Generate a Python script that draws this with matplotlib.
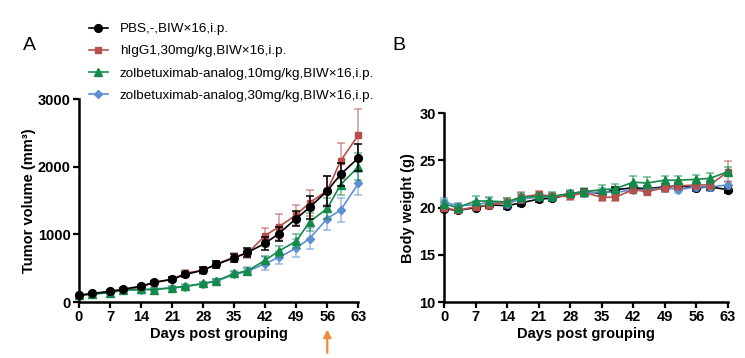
import numpy as np
import matplotlib
matplotlib.use("Agg")
import matplotlib.pyplot as plt

plt.rcParams['font.family'] = ['Liberation Sans', 'DejaVu Sans']

# ---------------------------------------------------------------------------
# data
# ---------------------------------------------------------------------------
days = [0, 3, 7, 10, 14, 17, 21, 24, 28, 31, 35, 38, 42, 45, 49, 52, 56, 59, 63]

group_labels = [
    "PBS,-,BIW×16,i.p.",
    "hIgG1,30mg/kg,BIW×16,i.p.",
    "zolbetuximab-analog,10mg/kg,BIW×16,i.p.",
    "zolbetuximab-analog,30mg/kg,BIW×16,i.p.",
]

# tumor volume (mm3), mean and SEM
tv_pbs = [103, 128, 160, 192, 236, 295, 338, 409, 473, 557, 655, 734, 870, 1010, 1236, 1400, 1645, 1890, 2131]
tv_pbs_err = [10, 12, 15, 18, 20, 25, 30, 35, 45, 50, 60, 70, 95, 100, 110, 170, 220, 170, 200]
tv_higg = [100, 122, 152, 180, 225, 290, 335, 430, 470, 565, 665, 722, 985, 1110, 1290, 1470, 1650, 2088, 2470]
tv_higg_err = [10, 12, 15, 20, 25, 30, 35, 40, 50, 50, 60, 70, 105, 190, 150, 190, 220, 265, 385]
tv_z10 = [100, 120, 142, 178, 190, 185, 212, 236, 276, 315, 424, 462, 620, 753, 901, 1186, 1385, 1738, 1999]
tv_z10_err = [10, 10, 12, 15, 15, 18, 20, 25, 25, 30, 40, 45, 60, 80, 100, 130, 150, 160, 200]
tv_z30 = [100, 118, 140, 175, 180, 195, 210, 230, 270, 310, 410, 455, 570, 660, 800, 940, 1236, 1360, 1754]
tv_z30_err = [10, 10, 12, 15, 15, 18, 20, 25, 25, 30, 40, 60, 90, 90, 130, 150, 170, 180, 170]

# body weight (g), mean and SEM
bw_pbs = [19.9, 19.7, 20.0, 20.3, 20.2, 20.5, 20.9, 21.0, 21.4, 21.7, 21.5, 21.9, 22.1, 22.0, 22.2, 22.3, 22.1, 22.2, 21.9]
bw_pbs_err = [0.3, 0.3, 0.3, 0.3, 0.3, 0.3, 0.3, 0.3, 0.3, 0.3, 0.3, 0.3, 0.3, 0.3, 0.3, 0.3, 0.3, 0.3, 0.3]
bw_higg = [20.0, 19.7, 20.1, 20.3, 20.6, 21.1, 21.4, 21.2, 21.2, 21.6, 21.1, 21.1, 21.9, 21.7, 22.1, 22.3, 22.4, 22.4, 23.8]
bw_higg_err = [0.3, 0.3, 0.4, 0.4, 0.4, 0.6, 0.4, 0.4, 0.4, 0.4, 0.4, 0.4, 0.4, 0.4, 0.4, 0.4, 0.4, 0.4, 1.1]
bw_z10 = [20.4, 20.0, 20.7, 20.7, 20.6, 21.1, 21.2, 21.2, 21.5, 21.7, 21.9, 22.0, 22.7, 22.6, 22.9, 22.9, 23.0, 23.1, 23.8]
bw_z10_err = [0.4, 0.4, 0.5, 0.4, 0.4, 0.4, 0.4, 0.5, 0.4, 0.4, 0.5, 0.5, 0.6, 0.6, 0.4, 0.4, 0.5, 0.6, 0.5]
bw_z30 = [20.6, 20.2, 20.3, 20.6, 20.4, 20.9, 21.1, 21.1, 21.5, 21.5, 21.7, 21.6, 21.9, 21.9, 22.1, 21.9, 22.2, 22.2, 22.4]
bw_z30_err = [0.4, 0.3, 0.4, 0.4, 0.4, 0.4, 0.3, 0.3, 0.3, 0.4, 0.4, 0.4, 0.4, 0.4, 0.4, 0.4, 0.4, 0.4, 0.4]

colors = ["#000000", "#b5504c", "#138a48", "#5b8fd2"]
markers = ["o", "s", "^", "D"]
msizes = [5.6, 5.0, 5.2, 3.6]
zorder_A = [5, 3, 4, 2]
zorder_B = [2, 4, 5, 3]

# ---------------------------------------------------------------------------
# figure
# ---------------------------------------------------------------------------
fig = plt.figure(figsize=(7.45, 3.58), dpi=100)
axA = fig.add_axes([0.106, 0.156, 0.375, 0.567])
axB = fig.add_axes([0.596, 0.156, 0.381, 0.528])

tv_means = [tv_pbs, tv_higg, tv_z10, tv_z30]
tv_errs = [tv_pbs_err, tv_higg_err, tv_z10_err, tv_z30_err]
bw_means = [bw_pbs, bw_higg, bw_z10, bw_z30]
bw_errs = [bw_pbs_err, bw_higg_err, bw_z10_err, bw_z30_err]

handles = []
for i in range(4):
    ebc = colors[i] if i == 0 else matplotlib.colors.to_rgba(colors[i], 0.6)
    for ax, m, e, z in [(axA, tv_means[i], tv_errs[i], zorder_A[i]),
                        (axB, bw_means[i], bw_errs[i], zorder_B[i])]:
        eb = ax.errorbar(days, m, yerr=e, color=colors[i], ecolor=ebc,
                         marker=markers[i], markersize=msizes[i], linewidth=1.2,
                         elinewidth=1.1, capsize=3.2, capthick=1.1,
                         zorder=z, clip_on=False)
        for art in eb.lines[1] + eb.lines[2]:
            art.set_clip_on(False)
    handles.append(plt.Line2D([], [], color=colors[i], marker=markers[i],
                              markersize=msizes[i], linewidth=1.2))

for ax in (axA, axB):
    ax.set_xlim(0, 63)
    ax.set_xticks(range(0, 64, 7))
    for s in ("top", "right"):
        ax.spines[s].set_visible(False)
    for s in ("left", "bottom"):
        ax.spines[s].set_linewidth(1.8)
    ax.tick_params(width=1.6, length=4, labelsize=10.5, pad=2)
    ax.set_xlabel("Days post grouping", fontsize=10.5, fontweight="bold", labelpad=2)

axA.set_ylim(0, 3000)
axA.set_yticks([0, 1000, 2000, 3000])
axA.set_ylabel("Tumor volume (mm³)", fontsize=10.5, fontweight="bold", labelpad=1)

axB.set_ylim(10, 30)
axB.set_yticks([10, 15, 20, 25, 30])
axB.set_ylabel("Body weight (g)", fontsize=10.5, fontweight="bold", labelpad=3)

for ax in (axA, axB):
    for lab in ax.get_xticklabels() + ax.get_yticklabels():
        lab.set_fontweight("bold")

fig.text(0.039, 0.874, "A", fontsize=14, ha="center", va="center")
fig.text(0.535, 0.874, "B", fontsize=14, ha="center", va="center")

fig.legend(handles, group_labels, loc="upper left", bbox_to_anchor=(0.112, 0.951),
           frameon=False, fontsize=9.7, handlelength=1.4, handletextpad=0.9,
           labelspacing=0.72, borderaxespad=0)

# orange arrow under day 56
axA.annotate("", xy=(56, -0.135), xycoords=("data", "axes fraction"),
             xytext=(56, -0.25), textcoords=("data", "axes fraction"),
             arrowprops=dict(arrowstyle="-|>", color="#f0893a", lw=1.6,
                             mutation_scale=11, shrinkA=0, shrinkB=0))

fig.savefig("out.png", dpi=100)
